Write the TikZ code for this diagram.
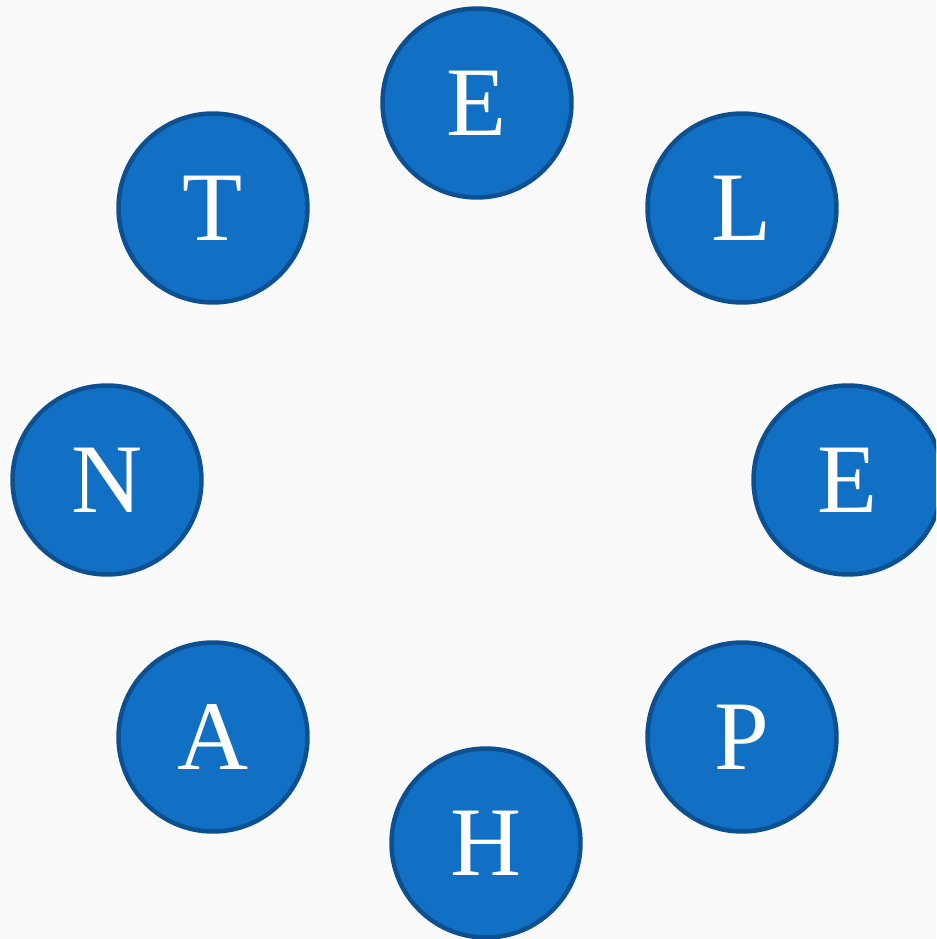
\documentclass[tikz,border=0pt]{standalone}
\usepackage{fontspec}
\setmainfont{Liberation Serif}
\definecolor{ballfill}{RGB}{17,112,196}
\definecolor{balledge}{RGB}{12,80,145}
\definecolor{paper}{RGB}{250,250,250}
\begin{document}
\begin{tikzpicture}[x=0.02cm,y=-0.02cm,
  ball/.style={draw=balledge, fill=ballfill, circle, line width=0.09cm,
    minimum size=3.78cm, inner sep=0pt, text=white, font=\fontsize{56}{60}\selectfont}]
\fill[paper] (0,0) rectangle (936,939);
\useasboundingbox (0,0) rectangle (936,939);
\clip (0,0) rectangle (936,939);

\node[ball] (1) at (477,103) {E};
\node[ball] (2) at (742,208) {L};
\node[ball] (3) at (848,480) {E};
\node[ball] (4) at (742,737) {P};
\node[ball] (5) at (486,843) {H};
\node[ball] (6) at (213,737) {A};
\node[ball] (7) at (107,480) {N};
\node[ball] (8) at (213,208) {T};
\end{tikzpicture}
\end{document}
